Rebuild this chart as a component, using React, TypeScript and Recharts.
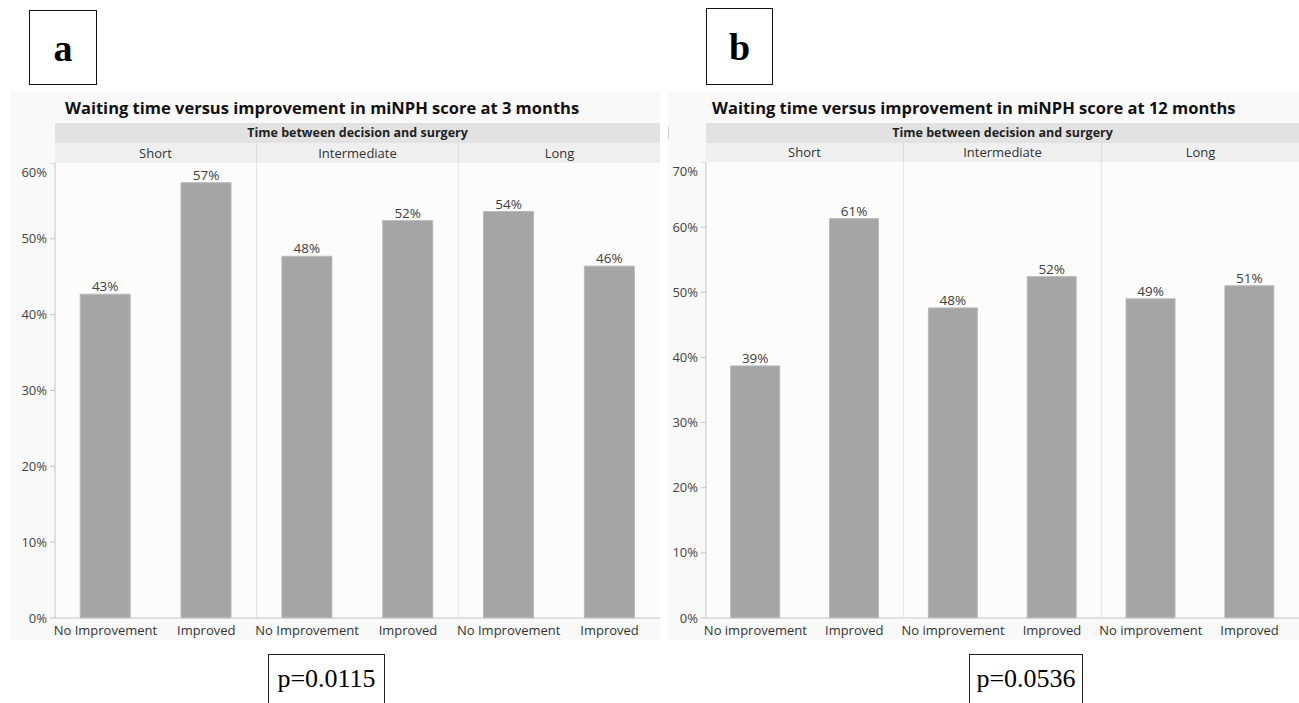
import { BarChart, Bar, XAxis, YAxis, ReferenceLine, LabelList } from 'recharts';

const groups = ['Short', 'Intermediate', 'Long'];
const outcomesA = ['No Improvement', 'Improved'];
const outcomesB = ['No improvement', 'Improved'];
// percent of patients
const valuesA = [42.7, 57.4, 47.7, 52.4, 53.6, 46.4];
const valuesB = [38.7, 61.3, 47.6, 52.4, 49.0, 51.0];
const ticksA = [0, 10, 20, 30, 40, 50, 60];
const ticksB = [0, 10, 20, 30, 40, 50, 60, 70];
const boundaries = [1, 2];

const FONT = '"Open Sans", "Noto Sans", sans-serif';

type Row = { key: string; label: string; group: string; facetPos: number; value: number };

function buildRows(outcomes: string[], values: number[]) {
  const rows: Row[] = [];
  groups.forEach((g, gi) => {
    outcomes.forEach((o, oi) => {
      // position inside the facet axis (one unit per group)
      rows.push({ key: g + '|' + o, label: o, group: g, facetPos: gi + (oi + 0.5) / outcomes.length, value: values[gi * 2 + oi] });
    });
  });
  return rows;
}

const rowsA = buildRows(outcomesA, valuesA);
const rowsB = buildRows(outcomesB, valuesB);

function LetterBox({ left, top, w, h, letter }: { left: number; top: number; w: number; h: number; letter: string }) {
  return (
    <div
      style={{
        position: 'absolute', left, top, width: w, height: h, boxSizing: 'border-box',
        border: '1.5px solid #111', background: '#fff', display: 'flex', alignItems: 'center',
        justifyContent: 'center', fontFamily: '"Liberation Serif", "DejaVu Serif", serif',
        fontWeight: 'bold', fontSize: 38, color: '#000',
      }}
    >
      {letter}
    </div>
  );
}

function PBox({ left, w, text }: { left: number; w: number; text: string }) {
  return (
    <div
      style={{
        position: 'absolute', left, top: 654, width: w, height: 60, boxSizing: 'border-box',
        border: '1px solid #222', background: '#fff', textAlign: 'center', paddingTop: 9,
        fontFamily: '"Liberation Serif", "DejaVu Serif", serif', fontSize: 26, color: '#000',
      }}
    >
      {text}
    </div>
  );
}

function Panel(props: {
  bgLeft: number; bgWidth: number; titleLeft: number; title: string;
  plotLeft: number; plotWidth: number; plotTop: number; band2H: number;
  rows: Row[];
  ticks: number[];
}) {
  const { bgLeft, bgWidth, titleLeft, title, plotLeft, plotWidth, plotTop, band2H, rows, ticks } = props;
  const axisW = 55;
  const xAxisH = 26;
  const plotBottom = 618;
  const max = ticks[ticks.length - 1];
  return (
    <>
      <div style={{ position: 'absolute', left: bgLeft, top: 92, width: bgWidth, height: 548, background: '#f9f9f9' }} />
      <div style={{ position: 'absolute', left: plotLeft, top: plotTop, width: plotWidth, height: plotBottom - plotTop, background: '#fcfcfc' }} />
      <div
        style={{
          position: 'absolute', left: titleLeft, top: 97, fontFamily: FONT, fontWeight: 'bold',
          fontSize: 16.5, color: '#111', whiteSpace: 'nowrap', lineHeight: '22px',
        }}
      >
        {title}
      </div>
      <div
        style={{
          position: 'absolute', left: plotLeft, top: 123, width: plotWidth, height: 20, background: '#e2e2e2',
          fontFamily: FONT, fontWeight: 'bold', fontSize: 12.5, color: '#222', textAlign: 'center', lineHeight: '20px',
        }}
      >
        Time between decision and surgery
      </div>
      <div style={{ position: 'absolute', left: plotLeft, top: 143, width: plotWidth, height: band2H, display: 'flex' }}>
        {groups.map((g, i) => (
          <div
            key={g}
            style={{
              flex: 1, background: '#efefef', borderLeft: i === 0 ? 'none' : '1px solid #dcdcdc',
              fontFamily: FONT, fontSize: 13, color: '#333', textAlign: 'center', lineHeight: band2H + 'px',
            }}
          >
            {g}
          </div>
        ))}
      </div>
      <div style={{ position: 'absolute', left: plotLeft - axisW, top: plotTop }}>
        <BarChart
          width={plotWidth + axisW}
          height={plotBottom - plotTop + xAxisH}
          data={rows}
          margin={{ top: 0, right: 0, bottom: 0, left: 0 }}
          barCategoryGap="25%"
        >
          <XAxis
            dataKey="key"
            tickFormatter={(k: string) => k.split('|')[1]}
            interval={0}
            height={xAxisH}
            stroke="#c4c4c4"
            tickLine={false}
            tick={{ fill: '#333', fontSize: 13, fontFamily: FONT }}
            tickMargin={2}
          />
          <XAxis xAxisId="facet" dataKey="facetPos" type="number" domain={[0, groups.length]} allowDataOverflow hide />
          <YAxis
            domain={[0, max]}
            ticks={ticks}
            width={axisW}
            stroke="#c4c4c4"
            tickSize={5}
            tickMargin={3}
            tickFormatter={(v: number) => v + '%'}
            tick={{ fill: '#444', fontSize: 13, fontFamily: FONT }}
          />
          {boundaries.map((b) => (
            <ReferenceLine key={b} xAxisId="facet" x={b} stroke="#e2e2e2" strokeWidth={1} />
          ))}
          <Bar dataKey="value" fill="#a5a5a5" stroke="#b8b8b8" strokeWidth={1} isAnimationActive={false}>
            <LabelList
              dataKey="value"
              position="top"
              offset={3}
              formatter={(v: any) => Math.round(Number(v)) + '%'}
              style={{ fill: '#404040', fontSize: 13.5, fontFamily: FONT }}
            />
          </Bar>
        </BarChart>
      </div>
    </>
  );
}

export default function App() {
  return (
    <div style={{ position: 'absolute', left: 0, top: 0, width: 1299, height: 703, background: '#fff', overflow: 'hidden' }}>
      <Panel
        bgLeft={10} bgWidth={650} titleLeft={65}
        title="Waiting time versus improvement in miNPH score at 3 months"
        plotLeft={55} plotWidth={605} plotTop={163} band2H={20}
        rows={rowsA} ticks={ticksA}
      />
      <Panel
        bgLeft={668} bgWidth={631} titleLeft={712}
        title="Waiting time versus improvement in miNPH score at 12 months"
        plotLeft={706} plotWidth={593} plotTop={162} band2H={19}
        rows={rowsB} ticks={ticksB}
      />
      <div style={{ position: 'absolute', left: 668, top: 127, width: 1, height: 12, background: '#cfcfcf' }} />
      <LetterBox left={29} top={10} w={68} h={75} letter="a" />
      <LetterBox left={706} top={8} w={67} h={77} letter="b" />
      <PBox left={268} w={117} text="p=0.0115" />
      <PBox left={969} w={114} text="p=0.0536" />
    </div>
  );
}
